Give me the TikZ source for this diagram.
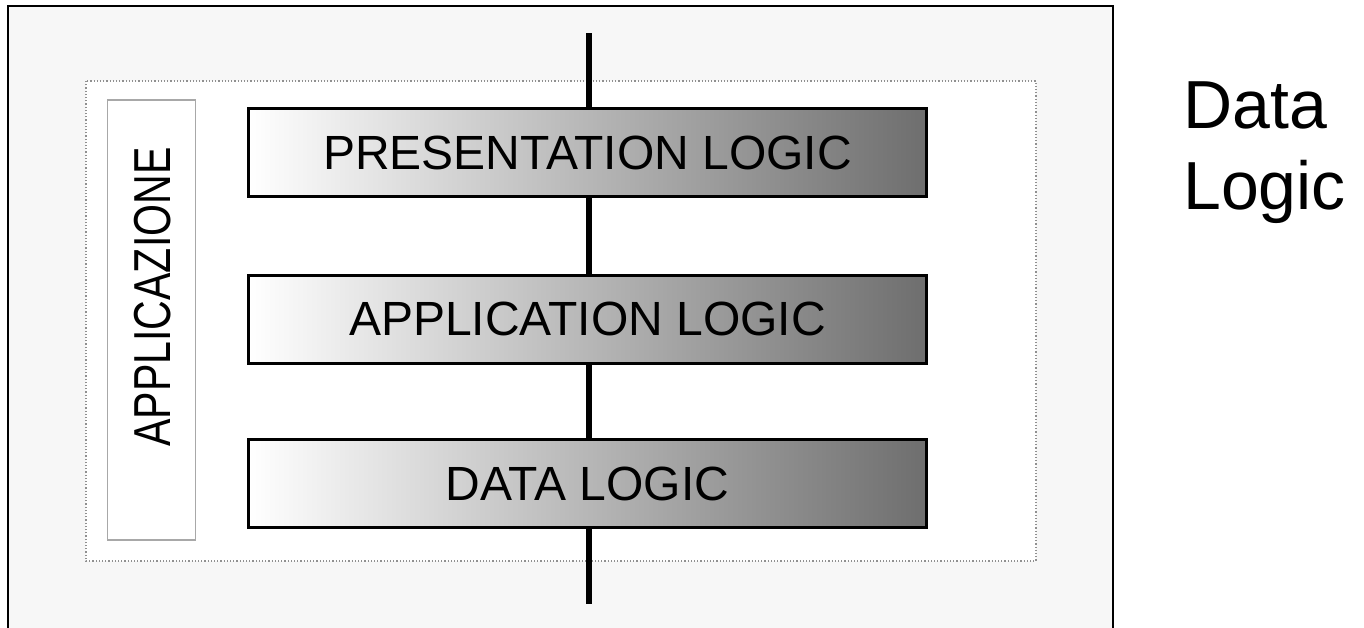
\documentclass[tikz,border=0pt]{standalone}
\usepackage{fontspec}
\setmainfont{Liberation Sans}
\definecolor{framefill}{HTML}{F7F7F7}
\definecolor{dotgray}{HTML}{909090}
\definecolor{boxgray}{HTML}{A8A8A8}
\definecolor{darkend}{HTML}{6E6E6E}
\begin{document}
\begin{tikzpicture}[x=1pt,y=-1pt,
  layerbox/.style={draw=black, line width=3pt, left color=white, right color=darkend,
    minimum width=678pt, minimum height=88pt, inner sep=0pt,
    font=\fontsize{48}{58}\selectfont},
  appbox/.style={draw=boxgray, line width=1.2pt, fill=white, minimum width=88pt, minimum height=440pt, inner sep=0pt},
  busline/.style={line width=6pt},
  bigtext/.style={font=\fontsize{68}{81}\selectfont, align=left, inner sep=0pt, anchor=north west}]
\useasboundingbox (0,0) rectangle (1364,627);
% outer frame
\fill[framefill] (8,6) rectangle (1113,640);
\draw[line width=2.5pt] (8,640) -- (8,6) -- (1113,6) -- (1113,640);
% inner dotted area
\draw[dotgray, fill=white, dotted, line width=1.2pt] (86,81) rectangle (1036,561);
% side box
\node[appbox] (app) at (151.5,320) {};
\node[rotate=90, inner sep=0pt, anchor=center, font=\fontsize{52}{60}\selectfont] (applbl) at (153,297) {\scalebox{0.79}[1]{APPLICAZIONE}};
% bus line
\coordinate (ltop) at (589,33);
\coordinate (lbot) at (589,604);
\draw[busline] (ltop) -- (lbot);
% layers
\node[layerbox] (pres) at (587.5,152.5) {PRESENTATION LOGIC};
\node[layerbox] (appl) at (587.5,319) {APPLICATION LOGIC};
\node[layerbox] (data) at (587.5,483.5) {DATA LOGIC};
% right label
\node[bigtext] (dl) at (1183,82) {Data\\Logic};
\end{tikzpicture}
\end{document}
